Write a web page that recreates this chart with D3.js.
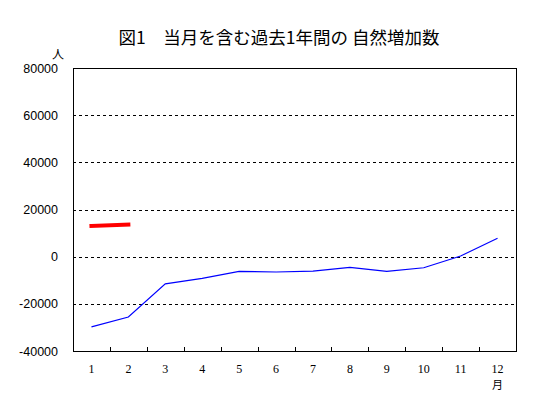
<!DOCTYPE html>
<html>
<head>
<meta charset="utf-8">
<script src="https://cdn.jsdelivr.net/npm/d3@7"></script>
<style>
  body { margin: 0; background: #fff; }
  text { fill: #000; }
</style>
</head>
<body>
<div id="chart"></div>
<script>
  // chart values
  var months = ["1", "2", "3", "4", "5", "6", "7", "8", "9", "10", "11", "12"];
  var pastYear = [-29800, -25600, -11500, -9200, -6200, -6500, -6100, -4500, -6200, -4700, 300, 7800];
  var currentMonths = ["1", "2"];
  var currentValues = [13000, 13600];
  var yTicks = [-40000, -20000, 0, 20000, 40000, 60000, 80000];

(function () {
  'use strict';
  var W = 547, H = 399;
  var m = { left: 73, right: 516, top: 68, bottom: 351 };

  var svg = d3.select("#chart").append("svg")
    .attr("width", W)
    .attr("height", H);

  var x = d3.scaleBand().domain(months).range([m.left, m.right]);
  var y = d3.scaleLinear().domain([-40000, 80000]).range([m.bottom, m.top]);

  // title
  svg.append("text")
    .attr("x", 279)
    .attr("y", 44)
    .attr("text-anchor", "middle")
    .style("font-family", "'Noto Sans CJK JP', sans-serif")
    .style("font-size", "17.5px")
    .text("図1\u3000当月を含む過去1年間の 自然増加数");

  // gridlines
  svg.append("g").selectAll("line")
    .data(yTicks.filter(function (d) { return d > -40000 && d < 80000; }))
    .enter().append("line")
    .attr("x1", m.left).attr("x2", m.right)
    .attr("y1", function (d) { return Math.round(y(d)) + 0.5; })
    .attr("y2", function (d) { return Math.round(y(d)) + 0.5; })
    .attr("stroke", "#000")
    .attr("stroke-dasharray", "3,3")
    .attr("shape-rendering", "crispEdges");

  // frame
  svg.append("rect")
    .attr("x", m.left + 0.5).attr("y", m.top + 0.5)
    .attr("width", m.right - m.left).attr("height", m.bottom - m.top)
    .attr("fill", "none")
    .attr("stroke", "#000")
    .attr("shape-rendering", "crispEdges");

  // y labels
  svg.append("g").selectAll("text")
    .data(yTicks)
    .enter().append("text")
    .attr("x", 58)
    .attr("y", function (d) { return y(d) + 4.5; })
    .attr("text-anchor", "end")
    .style("font-family", "'Liberation Sans', sans-serif")
    .style("font-size", "12.5px")
    .text(function (d) { return d; });

  svg.append("text")
    .attr("x", 58).attr("y", 59)
    .attr("text-anchor", "middle")
    .style("font-family", "'Noto Sans CJK JP', sans-serif")
    .style("font-size", "12px")
    .text("人");

  // x ticks (inward, at band edges)
  svg.append("g").selectAll("line")
    .data(months.slice(1))
    .enter().append("line")
    .attr("x1", function (d) { return Math.round(x(d)) + 0.5; })
    .attr("x2", function (d) { return Math.round(x(d)) + 0.5; })
    .attr("y1", m.bottom)
    .attr("y2", m.bottom - 4)
    .attr("stroke", "#000")
    .attr("shape-rendering", "crispEdges");

  // x labels
  svg.append("g").selectAll("text")
    .data(months)
    .enter().append("text")
    .attr("x", function (d) { return x(d) + x.bandwidth() / 2; })
    .attr("y", 373)
    .attr("text-anchor", "middle")
    .style("font-family", "'Liberation Serif', serif")
    .style("font-size", "12px")
    .text(function (d) { return d; });

  svg.append("text")
    .attr("x", x("12") + x.bandwidth() / 2)
    .attr("y", 389)
    .attr("text-anchor", "middle")
    .style("font-family", "'Noto Sans CJK JP', sans-serif")
    .style("font-size", "11px")
    .text("月");

  var line = d3.line()
    .x(function (d) { return x(d[0]) + x.bandwidth() / 2; })
    .y(function (d) { return y(d[1]); });

  svg.append("path")
    .datum(months.map(function (k, i) { return [k, pastYear[i]]; }))
    .attr("d", line)
    .attr("fill", "none")
    .attr("stroke", "#0000ff")
    .attr("stroke-width", 1.2);

  svg.append("path")
    .datum(currentMonths.map(function (k, i) { return [k, currentValues[i]]; }))
    .attr("d", line)
    .attr("fill", "none")
    .attr("stroke", "#ff0000")
    .attr("stroke-width", 4)
    .attr("stroke-linecap", "square");
})();
</script>
</body>
</html>
